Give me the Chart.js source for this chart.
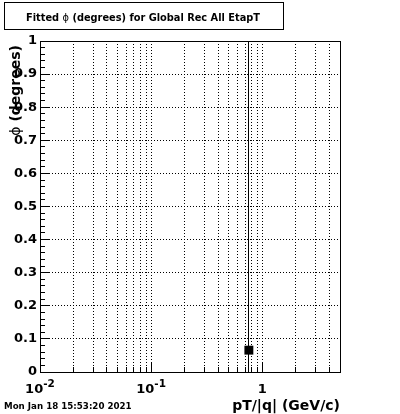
<!DOCTYPE html>
<html><head><meta charset="utf-8">
<script src="https://cdn.jsdelivr.net/npm/chart.js@4"></script>
<style>html,body{margin:0;padding:0;background:#fff}#wrap{width:400px;height:414px;position:relative}</style>
</head><body><div id="wrap"><canvas id="c" width="400" height="414"></canvas></div>
<script>
// texts: segments whose second element is true are drawn in the light (symbol) weight
const titleParts = [["Fitted ", false], ["\u03d5", true], [" (degrees) for Global Rec All EtapT", false]];
const xTitle = "pT/|q| (GeV/c)";
const yTitleParts = [["\u03d5", true], [" (degrees)", false]];
const dateText = "Mon Jan 18 15:53:20 2021";

// data (one fitted point with a large vertical error)
const xValues = [0.757];
const yValues = [0.066];
const yErrors = [1.2];

// axis ranges
const xRange = [0.01, 5];
const yRange = [0, 1];

// tick labels
const yTickValues = [0, 0.1, 0.2, 0.3, 0.4, 0.5, 0.6, 0.7, 0.8, 0.9, 1];
const yTickLabels = ["0", "0.1", "0.2", "0.3", "0.4", "0.5", "0.6", "0.7", "0.8", "0.9", "1"];
const yMinorValues = [0.02,0.04,0.06,0.08,0.12,0.14,0.16,0.18,0.22,0.24,0.26,0.28,0.32,0.34,0.36,0.38,0.42,0.44,0.46,0.48,0.52,0.54,0.56,0.58,0.62,0.64,0.66,0.68,0.72,0.74,0.76,0.78,0.82,0.84,0.86,0.88,0.92,0.94,0.96,0.98];
const xMajorTicks = [0.01, 0.1, 1];
const xMajorBase = ["10", "10", "1"];
const xMajorExp = ["-2", "-1", ""];
const xMinorTicks = [0.02,0.03,0.04,0.05,0.06,0.07,0.08,0.09,0.2,0.3,0.4,0.5,0.6,0.7,0.8,0.9,2,3,4];

const FONT = '"DejaVu Sans"';

function al(p){ return Math.round(p - 0.5) + 0.5; }

function partsFont(light, size){ return (light ? 'normal ' : 'bold ') + size + 'px ' + FONT; }
function partsWidth(ctx, parts, size){
  let w = 0;
  parts.forEach(([t, light]) => { ctx.font = partsFont(light, size); w += ctx.measureText(t).width; });
  return w;
}
function drawParts(ctx, parts, size, x, y){
  ctx.textAlign = 'left';
  let cx = x;
  parts.forEach(([t, light]) => { ctx.font = partsFont(light, size); ctx.fillText(t, cx, y); cx += ctx.measureText(t).width; });
}

const decor = {
  id: 'decor',
  beforeDatasetsDraw(chart){
    const {ctx, chartArea:a, scales:{x, y}} = chart;
    ctx.save();
    ctx.beginPath(); ctx.rect(a.left, a.top, a.right - a.left, a.bottom - a.top); ctx.clip();
    ctx.strokeStyle = '#000'; ctx.lineWidth = 1;
    xValues.forEach((xv, i) => {
      const px = al(x.getPixelForValue(xv));
      ctx.beginPath();
      ctx.moveTo(px, y.getPixelForValue(yValues[i] - yErrors[i]));
      ctx.lineTo(px, y.getPixelForValue(yValues[i] + yErrors[i]));
      ctx.stroke();
    });
    ctx.restore();
  },
  afterDraw(chart){
    const {ctx, chartArea:a, scales:{x, y}} = chart;
    ctx.save();
    ctx.strokeStyle = '#000'; ctx.fillStyle = '#000'; ctx.lineWidth = 1;
    // frame
    ctx.strokeRect(al(a.left), al(a.top), Math.round(a.right - a.left), Math.round(a.bottom - a.top));
    // y ticks
    ctx.beginPath();
    yTickValues.forEach(v => { const py = al(y.getPixelForValue(v)); ctx.moveTo(a.left, py); ctx.lineTo(a.left + 9, py); });
    yMinorValues.forEach(v => { const py = al(y.getPixelForValue(v)); ctx.moveTo(a.left, py); ctx.lineTo(a.left + 5, py); });
    // x ticks
    xMajorTicks.forEach(v => { const px = al(x.getPixelForValue(v)); ctx.moveTo(px, a.bottom); ctx.lineTo(px, a.bottom - 10); });
    xMinorTicks.forEach(v => { const px = al(x.getPixelForValue(v)); ctx.moveTo(px, a.bottom); ctx.lineTo(px, a.bottom - 5); });
    ctx.stroke();
    // y labels
    ctx.font = 'bold 13px ' + FONT;
    ctx.textAlign = 'right'; ctx.textBaseline = 'middle';
    yTickValues.forEach((v, i) => ctx.fillText(yTickLabels[i], a.left - 3, y.getPixelForValue(v)));
    // x labels
    ctx.textAlign = 'left'; ctx.textBaseline = 'alphabetic';
    xMajorTicks.forEach((v, i) => {
      const px = x.getPixelForValue(v);
      ctx.font = 'bold 13px ' + FONT;
      const wb = ctx.measureText(xMajorBase[i]).width;
      ctx.font = 'bold 10.5px ' + FONT;
      const we = xMajorExp[i] ? ctx.measureText(xMajorExp[i]).width : 0;
      const start = px - (wb + we) / 2;
      ctx.font = 'bold 13px ' + FONT;
      ctx.fillText(xMajorBase[i], start, a.bottom + 21);
      if (xMajorExp[i]) { ctx.font = 'bold 10.5px ' + FONT; ctx.fillText(xMajorExp[i], start + wb, a.bottom + 15); }
    });
    // x title
    ctx.font = 'bold 14px ' + FONT;
    ctx.textAlign = 'right';
    ctx.fillText(xTitle, a.right, 410);
    // y title (rotated, end aligned near top of frame)
    ctx.save();
    ctx.translate(20, a.top + 4);
    ctx.rotate(-Math.PI / 2);
    const wy = partsWidth(ctx, yTitleParts, 14);
    drawParts(ctx, yTitleParts, 14, -wy, 0);
    ctx.restore();
    // title box
    ctx.strokeRect(4.5, 2.5, 279, 27);
    const wt = partsWidth(ctx, titleParts, 9.8);
    drawParts(ctx, titleParts, 9.8, 143 - wt / 2, 21);
    // date
    ctx.font = 'bold 8.7px ' + FONT;
    ctx.textAlign = 'left';
    ctx.fillText(dateText, 4, 409);
    ctx.restore();
  }
};

new Chart(document.getElementById('c'), {
  type: 'scatter',
  data: {
    datasets: [{
      data: xValues.map((v, i) => ({x: v, y: yValues[i]})),
      pointStyle: 'rect',
      pointRadius: 6.3,
      pointHoverRadius: 6.3,
      pointBorderWidth: 0,
      backgroundColor: '#000',
      borderColor: '#000'
    }]
  },
  options: {
    responsive: false,
    animation: false,
    devicePixelRatio: 1,
    layout: { autoPadding: false, padding: { left: 40, right: 60, top: 41, bottom: 42 } },
    plugins: { legend: { display: false }, tooltip: { enabled: false }, title: { display: false } },
    events: [],
    scales: {
      x: {
        type: 'logarithmic', min: xRange[0], max: xRange[1],
        afterBuildTicks: s => { s.ticks = xMajorTicks.concat(xMinorTicks).sort((p, q) => p - q).map(v => ({value: v})); },
        ticks: { display: false },
        grid: { color: '#000', lineWidth: 1, drawTicks: false },
        border: { display: false, dash: [1, 2] }
      },
      y: {
        type: 'linear', min: yRange[0], max: yRange[1],
        afterBuildTicks: s => { s.ticks = yTickValues.map(v => ({value: v})); },
        ticks: { display: false },
        grid: { color: '#000', lineWidth: 1, drawTicks: false },
        border: { display: false, dash: [1, 2] }
      }
    }
  },
  plugins: [decor]
});
</script>
</body></html>
